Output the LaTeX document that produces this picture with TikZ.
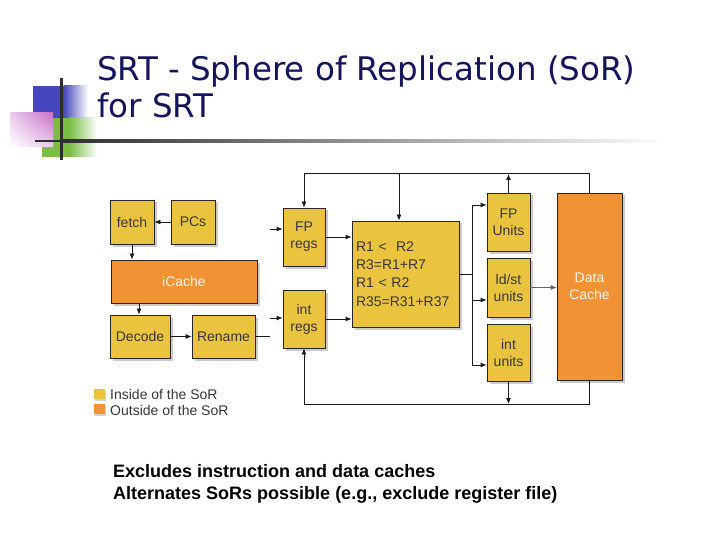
\documentclass[tikz,border=0pt]{standalone}
\usepackage{fontspec}
\setmainfont{Liberation Sans}
\newfontfamily\titlefont{DejaVu Sans}
\usetikzlibrary{arrows.meta,shadows,shadings}
\definecolor{boxyellow}{RGB}{234,196,62}
\definecolor{boxorange}{RGB}{241,146,52}
\definecolor{titleblue}{RGB}{20,20,95}
\definecolor{logoblue}{RGB}{70,70,190}
\definecolor{logogreen}{RGB}{122,190,70}
\definecolor{logopink}{RGB}{200,110,200}
\definecolor{boxtext}{RGB}{55,55,55}
\definecolor{linedark}{RGB}{45,45,45}
\begin{document}
\begin{tikzpicture}[x=1pt,y=-1pt,
  blockbase/.style={draw=black!85,line width=0.8pt,inner sep=0pt,align=center,
    font=\fontsize{14}{17}\selectfont,
    drop shadow={shadow xshift=2.5pt,shadow yshift=-2.5pt,opacity=0.4}},
  inbox/.style={blockbase,fill=boxyellow,text=boxtext},
  outbox/.style={blockbase,fill=boxorange,text=white!92!boxorange},
  conn/.style={line width=0.8pt,draw=black!90},
  arr/.style={conn,-{Latex[length=6pt,width=5pt]}},
  legsq/.style={minimum width=11pt,minimum height=10pt,inner sep=0pt,
    drop shadow={shadow xshift=1.5pt,shadow yshift=-1.5pt,opacity=0.35}},
  legtext/.style={anchor=west,inner sep=0pt,text=boxtext,font=\fontsize{14}{16}\selectfont},
  bottomtext/.style={anchor=base west,inner sep=0pt,font=\bfseries\fontsize{18}{21}\selectfont},
  titletext/.style={anchor=base west,inner sep=0pt,text=titleblue,font=\titlefont\fontsize{32.5}{38}\selectfont}]
\useasboundingbox (0,0) rectangle (720,540);
\fill[white] (0,0) rectangle (720,540);
% logo
\fill[logoblue] (33,86) rectangle (64,118);
\shade[left color=logoblue,right color=white] (63.5,86) rectangle (88,118);
\fill[logogreen] (42,118) rectangle (70,157);
\shade[left color=logogreen,right color=white] (69.5,118) rectangle (97,157);
\shade[upper left=logopink!35,upper right=logopink,lower left=white,lower right=logopink!35] (10,113) rectangle (53,147);
\fill[linedark] (35,140) rectangle (62,142.5);
\shade[left color=linedark,right color=white] (61,140) rectangle (667,142.5);
\fill[linedark] (59.5,78) rectangle (62.5,160);
% title
\node[titletext] (t1) at (97,81) {SRT - Sphere of Replication (SoR)};
\node[titletext] (t2) at (97,118) {for SRT};
% blocks
\node[inbox,minimum width=44pt,minimum height=44pt] (fetch) at (132,222) {fetch};
\node[inbox,minimum width=44pt,minimum height=44pt] (pcs) at (193,222) {PCs};
\node[outbox,minimum width=146pt,minimum height=43pt] (icache) at (184,281.5) {iCache};
\node[inbox,minimum width=60pt,minimum height=43pt] (decode) at (140,336.5) {Decode};
\node[inbox,minimum width=63pt,minimum height=43pt] (rename) at (223.5,336.5) {Rename};
\node[inbox,minimum width=42pt,minimum height=58pt] (fpregs) at (304,237) {FP\\regs};
\node[inbox,minimum width=42pt,minimum height=58pt] (intregs) at (304,319) {int\\regs};
\node[inbox,minimum width=107pt,minimum height=106pt,align=left,text width=99pt,inner xsep=4pt,font=\fontsize{14}{18.3}\selectfont] (big) at (405.5,274)
  {R1 <\ \ R2\\R3=R1+R7\\R1 < R2\\R35=R31+R37};
\node[inbox,minimum width=43pt,minimum height=58pt] (fpu) at (508.5,222) {FP\\Units};
\node[inbox,minimum width=43pt,minimum height=59pt] (ldst) at (508.5,287.5) {ld/st\\units};
\node[inbox,minimum width=43pt,minimum height=57pt] (intu) at (508.5,352.5) {int\\units};
\node[outbox,minimum width=65pt,minimum height=187pt] (dcache) at (589.5,286.5) {Data\\Cache};
% front-end connectors
\draw[arr] (pcs.west) -- (fetch.east);
\draw[arr] (fetch.south) -- (fetch.south |- icache.north);
\coordinate (icd) at (139,303);
\draw[arr] (icache.south -| icd) -- (decode.north -| icd);
\draw[arr] (decode.east) -- (rename.west);
\coordinate (renend) at (270,336.5);
\draw[conn] (rename.east) -- (renend);
\coordinate (fpin) at (270,229);
\coordinate (intin) at (270,318);
\draw[arr] (fpin) -- (fpin -| fpregs.west);
\draw[arr] (intin) -- (intin -| intregs.west);
\draw[arr] (fpregs.east) -- (fpregs.east -| big.west);
\draw[arr] (intregs.east) -- (intregs.east -| big.west);
% issue bus
\coordinate (bustop) at (472,205);
\coordinate (busbot) at (472,365);
\coordinate (busld) at (472,300);
\draw[conn] (big.east) -- (big.east -| bustop);
\draw[conn] (bustop) -- (busbot);
\draw[arr] (bustop) -- (bustop -| fpu.west);
\draw[arr] (busld) -- (busld -| ldst.west);
\draw[arr] (busbot) -- (busbot -| intu.west);
\draw[arr,draw=black!60,line width=0.6pt] (ldst.east) -- (ldst.east -| dcache.west);
% feedback loops
\coordinate (topr) at (589.5,173);
\coordinate (topl) at (304,173);
\coordinate (topm) at (399,173);
\coordinate (botr) at (589.5,404);
\coordinate (botl) at (304,404);
\coordinate (botm) at (508.5,404);
\coordinate (topu) at (508.5,174);
\draw[conn] (dcache.north) -- (topr) -- (topl);
\draw[arr] (topl) -- (fpregs.north);
\draw[arr] (topm) -- (topm |- big.north);
\draw[arr] (fpu.north) -- (topu);
\draw[conn] (dcache.south) -- (botr) -- (botl);
\draw[arr] (botl) -- (intregs.south);
\draw[arr] (intu.south) -- (botm);
% legend
\node[legsq,fill=boxyellow] (ly) at (99,394) {};
\node[legsq,fill=boxorange] (lo) at (99,409) {};
\node[legtext] (lyt) at (110,394) {Inside of the SoR};
\node[legtext] (lot) at (110,410) {Outside of the SoR};
% bottom text
\node[bottomtext] (b1) at (113,477.5) {Excludes instruction and data caches};
\node[bottomtext] (b2) at (113,499.5) {Alternates SoRs possible (e.g., exclude register file)};
\end{tikzpicture}
\end{document}
